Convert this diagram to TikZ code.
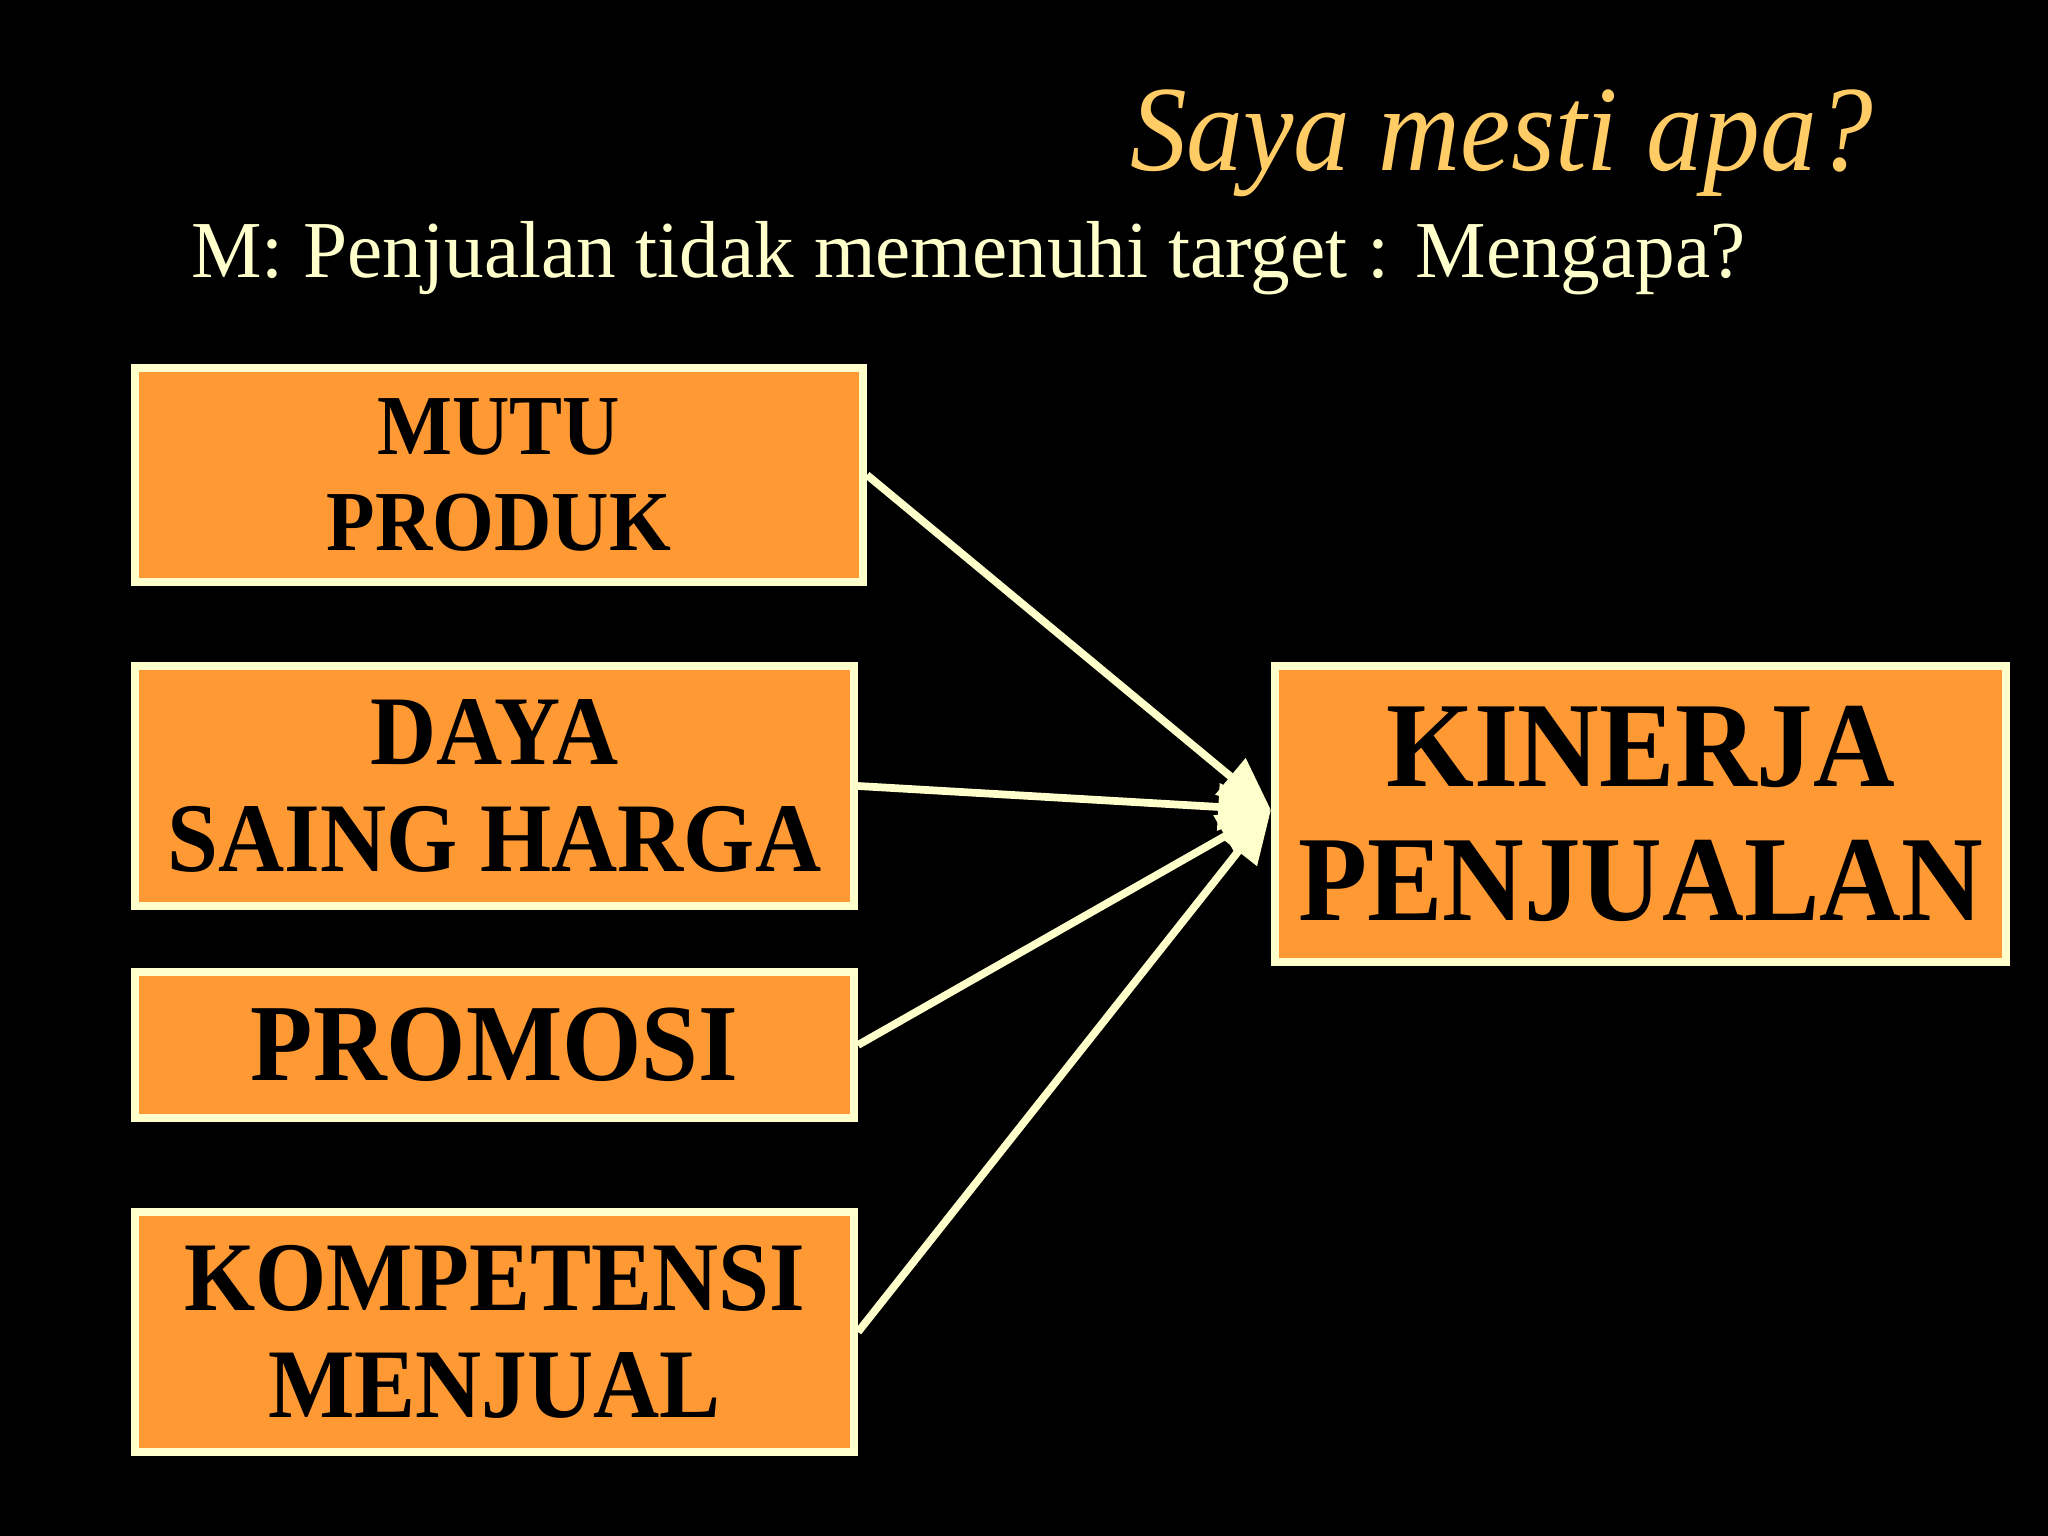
\documentclass[tikz,border=0pt]{standalone}
\usepackage{fontspec}
\setmainfont{Liberation Serif}[FakeStretch=0.93]
\newfontfamily\subserif{Liberation Serif}[FakeStretch=0.98]
\usepackage{xcolor}
\usepackage{tikz}
\usetikzlibrary{arrows.meta}
\definecolor{bg}{HTML}{000000}
\definecolor{gold}{HTML}{FFCC66}
\definecolor{cream}{HTML}{FFFFCC}
\definecolor{orange}{HTML}{FF9933}
\tikzset{
  factorBox/.style={draw=cream, fill=orange, line width=2.3pt, align=center,
    inner sep=0pt, text=black, font=\bfseries},
  titleText/.style={text=gold, font=\itshape\fontsize{34.7}{40}\selectfont},
  subText/.style={text=cream, font=\subserif\fontsize{23}{28}\selectfont},
  link/.style={draw=cream, line width=2.2pt, -{Triangle[length=15pt,width=13pt]}}
}
\begin{document}
\begin{tikzpicture}
  \fill[bg] (0,0) rectangle (20.48,-15.36);
  \useasboundingbox (0,0) rectangle (20.48,-15.36);

  \node[titleText, anchor=base east] (title) at (18.86,-1.71) {Saya mesti apa?};
  \node[subText, anchor=base west] (sub) at (1.79,-2.78)
    {M: Penjualan tidak memenuhi target : Mengapa?};

  \node[factorBox, minimum width=7.28cm, minimum height=2.14cm,
    font=\bfseries\fontsize{24.3}{27.5}\selectfont] (mutu) at (4.99,-4.75) {MUTU\\PRODUK};
  \node[factorBox, minimum width=7.19cm, minimum height=2.40cm,
    font=\bfseries\fontsize{28}{30.4}\selectfont] (daya) at (4.945,-7.86) {DAYA\\SAING HARGA};
  \node[factorBox, minimum width=7.19cm, minimum height=1.46cm,
    font=\bfseries\fontsize{31.2}{34}\selectfont] (promosi) at (4.945,-10.45) {PROMOSI};
  \node[factorBox, minimum width=7.19cm, minimum height=2.40cm,
    font=\bfseries\fontsize{28}{30.4}\selectfont] (kompetensi) at (4.945,-13.32) {KOMPETENSI\\MENJUAL};

  \node[factorBox, minimum width=7.31cm, minimum height=2.96cm,
    font=\bfseries\fontsize{34.6}{38}\selectfont] (kinerja) at (16.405,-8.14) {KINERJA\\PENJUALAN};

  \coordinate (tip) at ([yshift=0.04cm]kinerja.west);

  \draw[link] (mutu.east) -- (tip);
  \draw[link] (daya.east) -- (tip);
  \draw[link] (promosi.east) -- (tip);
  \draw[link] (kompetensi.east) -- (tip);
\end{tikzpicture}
\end{document}
